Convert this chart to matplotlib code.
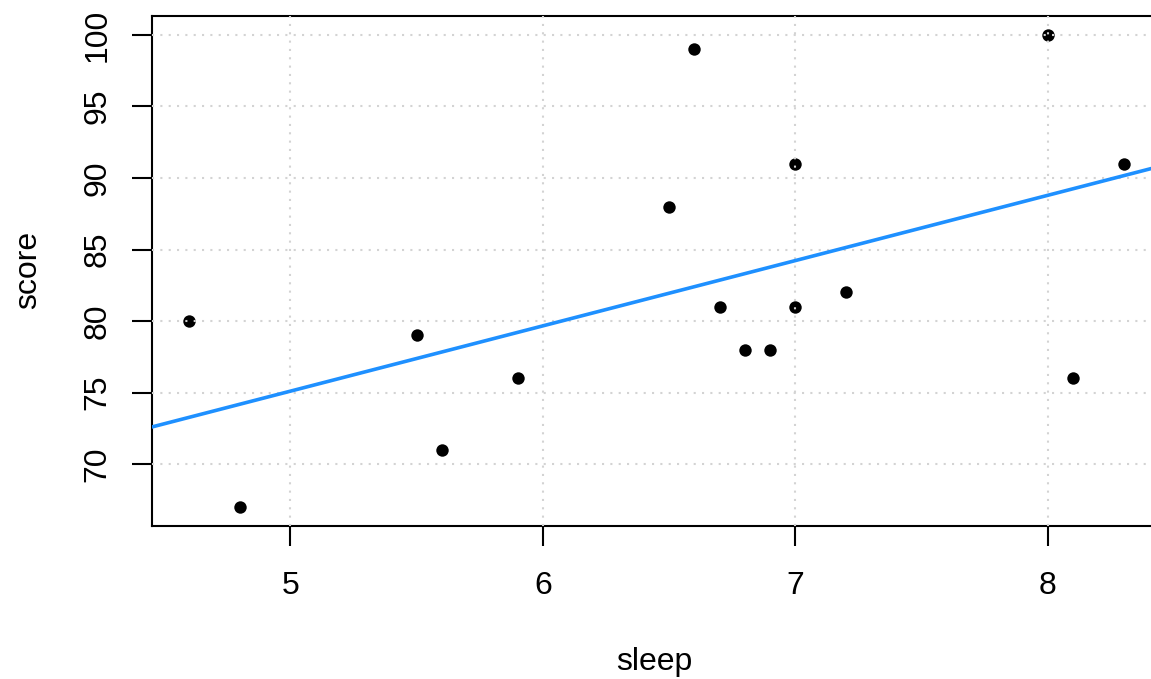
import numpy as np
import matplotlib
matplotlib.use("Agg")
import matplotlib.pyplot as plt

# Data
sleep = [4.6, 4.8, 5.5, 5.6, 5.9, 6.5, 6.6, 6.7, 6.8, 6.9, 7.0, 7.0, 7.2, 8.0, 8.1, 8.3]
score = [80, 67, 79, 71, 76, 88, 99, 81, 78, 78, 91, 81, 82, 100, 76, 91]
x_ticks = [5, 6, 7, 8]
y_ticks = [70, 75, 80, 85, 90, 95, 100]

plt.rcParams['font.family'] = ['Liberation Sans', 'DejaVu Sans']

W, H = 1151, 679
fig = plt.figure(figsize=(W / 100, H / 100), dpi=100)
ax = fig.add_axes([152 / W, 1 - 526 / H, (1161 - 152) / W, (526 - 16) / H])

# R-style 4% range extension
xr = max(sleep) - min(sleep)
yr = max(score) - min(score)
ax.set_xlim(min(sleep) - 0.04 * xr, max(sleep) + 0.04 * xr)
ax.set_ylim(min(score) - 0.04 * yr, max(score) + 0.04 * yr)

ax.scatter(sleep, score, s=80, color='black', zorder=2, linewidths=0)

# grid on top of the points, like grid() after plot() in R
for t in x_ticks:
    ax.axvline(t, color='#D3D3D3', lw=1.5, ls=(0, (1, 3)), zorder=3)
for t in y_ticks:
    ax.axhline(t, color='#D3D3D3', lw=1.5, ls=(0, (1, 3)), zorder=3)

# least squares line
b, a = np.polyfit(sleep, score, 1)
xx = np.array(ax.get_xlim())
ax.plot(xx, a + b * xx, color='#1E90FF', lw=2.6, zorder=4)

ax.set_xticks(x_ticks)
ax.set_yticks(y_ticks)
ax.set_xticklabels([str(t) for t in x_ticks])
ax.set_yticklabels([str(t) for t in y_ticks], rotation=90, va='center')
ax.tick_params(axis='x', pad=18)
ax.tick_params(axis='y', pad=14)
ax.tick_params(axis='both', direction='out', length=14.5, width=1.5,
               labelsize=23, colors='black')
for sp in ax.spines.values():
    sp.set_linewidth(1.5)
    sp.set_color('black')

fig.text(654 / W, 1 - 662 / H, 'sleep', ha='center', va='center', fontsize=23)
fig.text(28 / W, 1 - 270 / H, 'score', ha='center', va='center', fontsize=23, rotation=90)

fig.savefig('out.png', dpi=100)
